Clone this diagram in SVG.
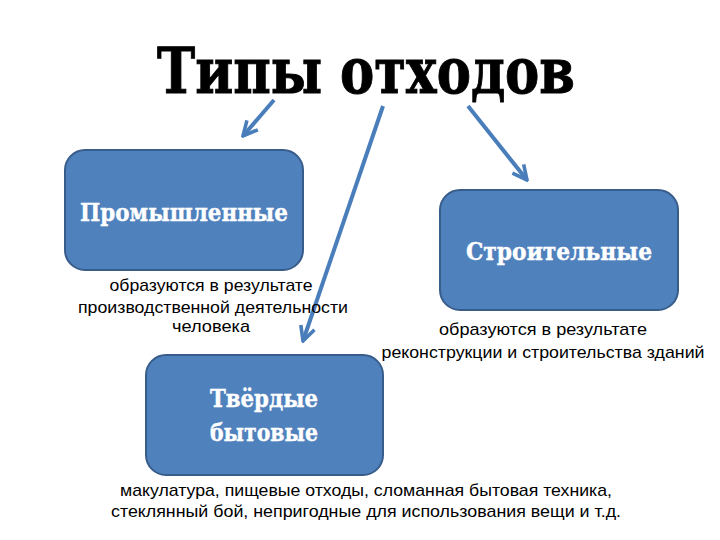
<svg xmlns="http://www.w3.org/2000/svg" width="720" height="540" viewBox="0 0 720 540">
<defs>
<style>
.box{fill:#4f81bd;stroke:#385d8a;stroke-width:2}
.lbl{font-family:"DejaVu Serif","Liberation Serif",serif;font-weight:bold;fill:#fff;stroke:#fff;stroke-width:0.4;font-size:24px;text-anchor:middle}
.note{font-family:"Liberation Sans",Arial,sans-serif;font-size:17px;fill:#000;text-anchor:middle}
.conn{stroke:#4a7ebb;stroke-width:4;fill:none;marker-end:url(#ah)}
</style>
<marker id="ah" viewBox="0 0 10 10" refX="9" refY="5" markerWidth="4.5" markerHeight="4.5" orient="auto" markerUnits="strokeWidth">
<polyline points="1,1 9,5 1,9" fill="none" stroke="#4a7ebb" stroke-width="2" stroke-linejoin="miter"/>
</marker>
</defs>
<rect width="720" height="540" fill="#fff"/>
<text x="366" y="93" font-family="DejaVu Serif,Liberation Serif,serif" font-weight="bold" font-size="64" text-anchor="middle" textLength="418" lengthAdjust="spacingAndGlyphs" fill="#000" stroke="#000" stroke-width="1">Типы отходов</text>
<g id="connectors">
<line class="conn" x1="274" y1="100" x2="243" y2="136"/>
<line class="conn" x1="383" y1="106" x2="303" y2="341"/>
<line class="conn" x1="468" y1="106" x2="527" y2="180"/>
</g>
<g id="n1">
<rect class="box" x="65" y="150" width="238" height="120" rx="20"/>
<text class="lbl" x="184" y="221" textLength="208" lengthAdjust="spacingAndGlyphs">Промышленные</text>
</g>
<g id="n2">
<rect class="box" x="440" y="190" width="238" height="120" rx="20"/>
<text class="lbl" x="559" y="260" textLength="186" lengthAdjust="spacingAndGlyphs">Строительные</text>
</g>
<g id="n3">
<rect class="box" x="146" y="355" width="237" height="120" rx="20"/>
<text class="lbl" x="264" y="407" textLength="108" lengthAdjust="spacingAndGlyphs">Твёрдые</text>
<text class="lbl" x="264" y="441" textLength="108" lengthAdjust="spacingAndGlyphs">бытовые</text>
</g>
<g id="t1">
<text class="note" x="211" y="291" textLength="203" lengthAdjust="spacingAndGlyphs">образуются в результате</text>
<text class="note" x="213" y="313" textLength="270" lengthAdjust="spacingAndGlyphs">производственной деятельности</text>
<text class="note" x="211" y="332" textLength="78" lengthAdjust="spacingAndGlyphs">человека</text>
</g>
<g id="t2">
<text class="note" x="543" y="335" textLength="208" lengthAdjust="spacingAndGlyphs">образуются в результате</text>
<text class="note" x="543" y="358" textLength="323" lengthAdjust="spacingAndGlyphs">реконструкции и строительства зданий</text>
</g>
<g id="t3">
<text class="note" x="366" y="496" textLength="492" lengthAdjust="spacingAndGlyphs">макулатура, пищевые отходы, сломанная бытовая техника,</text>
<text class="note" x="366" y="517" textLength="510" lengthAdjust="spacingAndGlyphs">стеклянный бой, непригодные для использования вещи и т.д.</text>
</g>
</svg>
